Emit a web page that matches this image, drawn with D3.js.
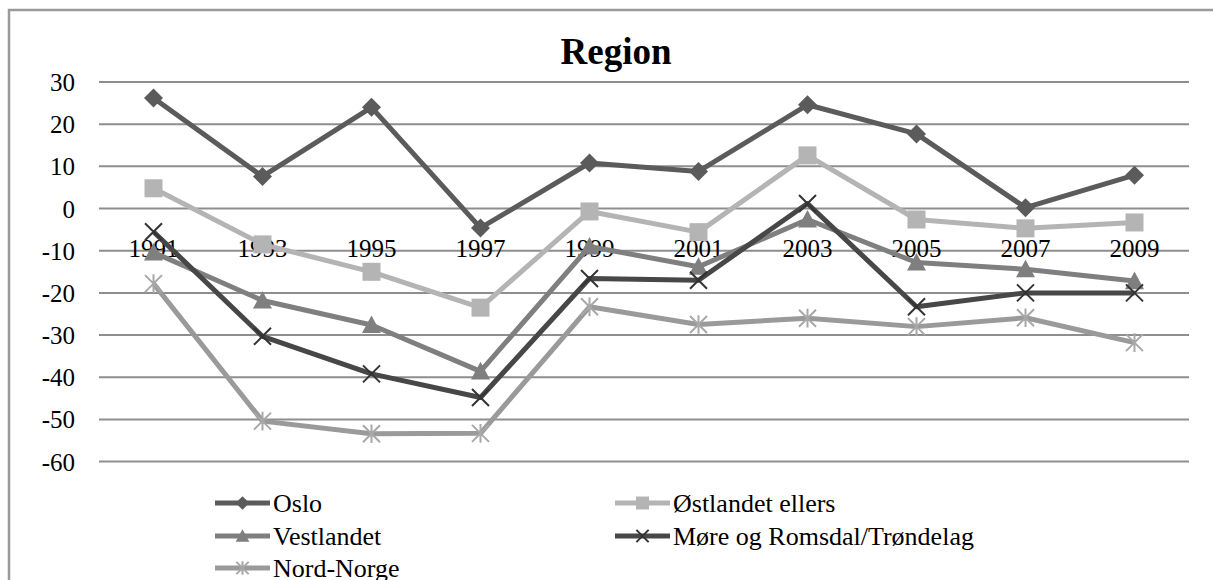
<!DOCTYPE html>
<html>
<head>
<meta charset="utf-8">
<script src="https://cdn.jsdelivr.net/npm/d3@7"></script>
<style>
  html, body { margin: 0; padding: 0; background: #fff; }
  svg { display: block; }
</style>
</head>
<body>
<svg id="chart" width="1213" height="580" font-family="'Liberation Serif', Tinos, 'Times New Roman', 'DejaVu Serif', serif"></svg>
<script>
const years = ["1991","1993","1995","1997","1999","2001","2003","2005","2007","2009"];
const yTicks = [30, 20, 10, 0, -10, -20, -30, -40, -50, -60];
const title = "Region";

const seriesNames = ["Oslo", "Østlandet ellers", "Vestlandet", "Møre og Romsdal/Trøndelag", "Nord-Norge"];
const oslo      = [26.2, 7.6, 24.0, -4.6, 10.8, 8.8, 24.6, 17.7, 0.2, 7.9];
const ostlandet = [4.8, -8.5, -15.0, -23.5, -0.7, -5.6, 12.6, -2.6, -4.7, -3.3];
const vestlandet= [-10.4, -21.8, -27.6, -38.6, -9.0, -13.8, -2.6, -12.8, -14.4, -17.2];
const more      = [-5.5, -30.3, -39.2, -44.8, -16.6, -17.0, 1.2, -23.3, -20.0, -20.0];
const nordnorge = [-17.8, -50.4, -53.4, -53.3, -23.3, -27.5, -26.0, -28.0, -25.9, -31.8];

const seriesValues = [oslo, ostlandet, vestlandet, more, nordnorge];
const colors  = ["#5b5b5b", "#b4b4b4", "#7f7f7f", "#474747", "#9a9a9a"];
const markers = ["diamond", "square", "triangle", "x", "star"];

const FONT = "'Liberation Serif', Tinos, 'Times New Roman', 'DejaVu Serif', serif";
const svg = d3.select("#chart");

// outer border
svg.append("rect").attr("x", 9).attr("y", 10).attr("width", 1230).attr("height", 600)
  .attr("fill", "none").attr("stroke", "#9a9a9a").attr("stroke-width", 2.5);

const x = d3.scaleBand().domain(years).range([99, 1189]);
const xc = d => x(d) + x.bandwidth() / 2;
const y = d3.scaleLinear().domain([-60, 30]).range([461.6, 82]);

// gridlines
svg.append("g").selectAll("line").data(yTicks).join("line")
  .attr("x1", 99).attr("x2", 1189)
  .attr("y1", d => y(d)).attr("y2", d => y(d))
  .attr("stroke", "#8e8e8e").attr("stroke-width", 2);

// y tick labels
svg.append("g").selectAll("text").data(yTicks).join("text")
  .attr("x", 75).attr("y", d => y(d) + 9)
  .attr("text-anchor", "end").attr("font-size", 25).attr("font-family", FONT)
  .style("font-family", FONT)
  .text(d => d);

// x category labels (at the zero line)
svg.append("g").selectAll("text").data(years).join("text")
  .attr("x", d => xc(d)).attr("y", y(0) + 48)
  .attr("text-anchor", "middle").attr("font-size", 25).attr("font-family", FONT)
  .style("font-family", FONT)
  .text(d => d);

// title
svg.append("text").attr("x", 616).attr("y", 64)
  .attr("text-anchor", "middle").attr("font-size", 37).attr("font-weight", "bold")
  .attr("font-family", FONT).style("font-family", FONT)
  .text(title);

function markerPath(type, s) {
  const h = s / 2;
  switch (type) {
    case "diamond": return `M0,${-h}L${h},0L0,${h}L${-h},0Z`;
    case "square": return `M${-h},${-h}H${h}V${h}H${-h}Z`;
    case "triangle": return `M0,${-h}L${h},${h*0.85}L${-h},${h*0.85}Z`;
    case "x": return `M${-h},${-h}L${h},${h}M${h},${-h}L${-h},${h}`;
    case "star": return `M${-h},${-h}L${h},${h}M${h},${-h}L${-h},${h}M0,${-h*1.1}L0,${h*1.1}`;
  }
}
const filled = t => t === "diamond" || t === "square" || t === "triangle";
const markerSize = { diamond: 19, square: 18, triangle: 19, x: 17, star: 17 };

function drawMarker(g, type, color, cx, cy, scale) {
  const p = g.append("path")
    .attr("d", markerPath(type, markerSize[type] * scale))
    .attr("transform", `translate(${cx},${cy})`);
  if (filled(type)) p.attr("fill", color).attr("stroke", "none");
  else p.attr("fill", "none").attr("stroke", type === "x" ? "#333" : "#a8a8a8").attr("stroke-width", 2);
}

const line = d3.line().x((d, i) => xc(years[i])).y(d => y(d));

seriesValues.forEach((vals, si) => {
  const g = svg.append("g");
  g.append("path").datum(vals).attr("d", line)
    .attr("fill", "none").attr("stroke", colors[si]).attr("stroke-width", 5)
    .attr("stroke-linejoin", "round");
  vals.forEach((v, i) => drawMarker(g, markers[si], colors[si], xc(years[i]), y(v), 1));
});

// legend
const legendPos = [
  { lx: 215, ty: 512 }, { lx: 615, ty: 512 },
  { lx: 215, ty: 545 }, { lx: 615, ty: 545 },
  { lx: 215, ty: 577 }
];
seriesNames.forEach((name, si) => {
  const p = legendPos[si];
  const g = svg.append("g");
  const ly = p.ty - 9;
  g.append("line").attr("x1", p.lx).attr("x2", p.lx + 55).attr("y1", ly).attr("y2", ly)
    .attr("stroke", colors[si]).attr("stroke-width", 5);
  drawMarker(g, markers[si], colors[si], p.lx + 27.5, ly, 0.72);
  g.append("text").attr("x", p.lx + 58).attr("y", p.ty).attr("font-size", 26)
    .attr("font-family", FONT).style("font-family", FONT).text(name);
});
</script>
</body>
</html>
